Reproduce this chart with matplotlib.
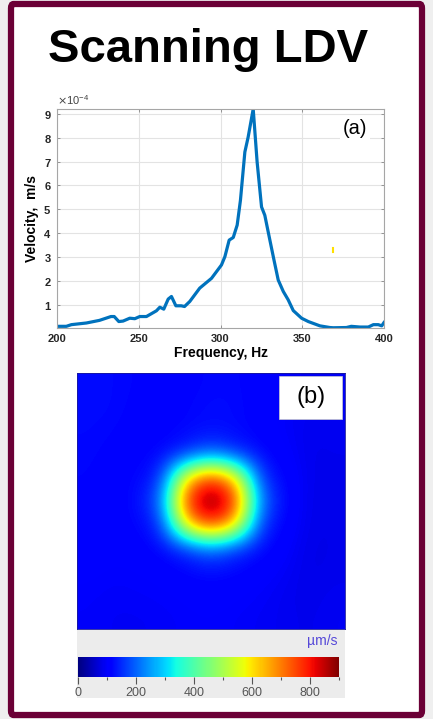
import numpy as np
import matplotlib.pyplot as plt
from matplotlib.patches import FancyBboxPatch, Rectangle
from matplotlib.ticker import ScalarFormatter, MultipleLocator

plt.rcParams['font.family'] = ['Liberation Sans', 'DejaVu Sans']

# spectrum (a), velocity in m/s
freq = [200, 205.7, 208.8, 218, 226, 233, 235, 237.8, 240.4, 244.5, 247.6, 250.6, 254.7,
        260.8, 262.9, 265.3, 268, 270, 272.7, 276, 278, 281.2, 287.3, 294.5, 300.6, 302.7,
        305.3, 307.8, 310.2, 312.2, 314.9, 316.9, 320, 322.4, 325.1, 327.1, 330.2, 332.7,
        335.3, 338.4, 341.4, 344.5, 349.6, 353.7, 360.8, 366.9, 369, 377, 380, 385.3,
        390.4, 393.5, 396.5, 398.6, 400]
vel = [0.10, 0.10, 0.17, 0.24, 0.35, 0.51, 0.51, 0.30, 0.32, 0.44, 0.42, 0.51, 0.51,
       0.75, 0.90, 0.82, 1.24, 1.35, 0.96, 0.96, 0.93, 1.14, 1.70, 2.11, 2.67, 3.02,
       3.71, 3.82, 4.34, 5.38, 7.40, 8.02, 9.20, 6.98, 5.10, 4.75, 3.71, 2.88,
       2.04, 1.56, 1.21, 0.76, 0.44, 0.30, 0.12, 0.05, 0.04, 0.05, 0.10, 0.07,
       0.07, 0.17, 0.17, 0.12, 0.26]
vel = np.array(vel) * 1e-4

# scan map (b), velocity in um/s on the scan grid
scan = np.array([
    [122, 120, 115, 110, 112, 118, 118, 110, 100, 92, 95],
    [122, 120, 112, 108, 115, 122, 120, 110, 98, 90, 92],
    [120, 116, 110, 110, 118, 125, 120, 110, 98, 88, 90],
    [118, 112, 110, 118, 150, 210, 155, 122, 105, 86, 88],
    [116, 110, 114, 150, 620, 790, 630, 155, 116, 86, 86],
    [115, 110, 118, 210, 790, 910, 800, 220, 120, 85, 85],
    [112, 108, 114, 152, 630, 800, 640, 158, 114, 84, 85],
    [110, 105, 108, 120, 155, 220, 160, 124, 104, 82, 85],
    [105, 100, 102, 106, 115, 122, 116, 106, 96, 82, 86],
    [100, 96, 98, 100, 104, 108, 104, 98, 90, 84, 90],
    [98, 94, 94, 96, 100, 102, 98, 94, 90, 86, 92],
])
cbar_ticks = [0, 200, 400, 600, 800]

W, H = 433, 719
def box(l, t, r, b):
    return [l / W, 1 - b / H, (r - l) / W, (b - t) / H]

fig = plt.figure(figsize=(4.33, 7.19), dpi=100, facecolor='#efefef')
frame = FancyBboxPatch((11 / W, 4 / H), 411 / W, 711 / H, boxstyle='round,pad=0,rounding_size=0.006',
                       transform=fig.transFigure, facecolor='white', edgecolor='#6b0036', lw=4.5,
                       zorder=-2)
fig.patches.append(frame)

fig.text(208 / W, 1 - 62 / H, 'Scanning LDV', fontsize=34, fontweight='bold', ha='center', va='baseline')

# (a)
ax = fig.add_axes(box(57, 109, 384, 328))
ax.plot(freq, vel, color='#0072BD', lw=2.3)
ax.plot([368.8, 368.8], [3.2e-4, 3.4e-4], color='#ffe000', lw=1.5)
ax.set_xlim(200, 400)
ax.set_ylim(0.03e-4, 9.2e-4)
ax.set_xticks([200, 250, 300, 350, 400])
ax.set_yticks(np.arange(1, 10) * 1e-4)
fmt = ScalarFormatter(useMathText=True)
fmt.set_powerlimits((-3, 3))
ax.yaxis.set_major_formatter(fmt)
ax.grid(True, color='#e3e3e3', lw=0.8)
ax.tick_params(direction='in', length=2.5, width=0.6, color='#888888', labelsize=8,
               top=True, right=True, pad=4)
for lab in ax.get_xticklabels() + ax.get_yticklabels():
    lab.set_fontweight('bold')
    lab.set_color('#262626')
ax.yaxis.get_offset_text().set_fontsize(8)
ax.yaxis.get_offset_text().set_color('#444444')
for s in ax.spines.values():
    s.set_color('#a6a6a6')
    s.set_linewidth(0.8)
ax.set_xlabel('Frequency, Hz', fontsize=10, fontweight='bold', labelpad=2)
ax.set_ylabel('Velocity,  m/s', fontsize=10, fontweight='bold', labelpad=3)
ax.text(0.95, 0.91, '(a)', transform=ax.transAxes, fontsize=14.5, ha='right', va='center',
        bbox=dict(facecolor='white', edgecolor='none', pad=2))

# grey strip under the map
fig.patches.append(Rectangle((77 / W, 1 - 698 / H), 268 / W, 69 / H, transform=fig.transFigure,
                             facecolor='#ececec', edgecolor='none', zorder=-1))

# (b)
bx = fig.add_axes(box(77, 373, 345, 629))
im = bx.imshow(scan, cmap='jet', vmin=0, vmax=900, interpolation='bicubic', aspect='auto')
bx.set_xticks([])
bx.set_yticks([])
for s in bx.spines.values():
    s.set_color('#1a1a9a')
    s.set_linewidth(0.6)
bx.add_patch(Rectangle((0.755, 0.82), 0.235, 0.17, transform=bx.transAxes,
                       facecolor='white', edgecolor='#cccccc', lw=0.5))
bx.text(0.872, 0.905, '(b)', transform=bx.transAxes, fontsize=17, ha='center', va='center')

fig.text(338 / W, 1 - 641 / H, 'µm/s', fontsize=10, color='#5548d8', ha='right', va='center')

cax = fig.add_axes(box(78, 657, 339, 677))
cb = fig.colorbar(im, cax=cax, orientation='horizontal')
cb.set_ticks(cbar_ticks)
cb.outline.set_visible(False)
cax.xaxis.set_minor_locator(MultipleLocator(100))
cax.tick_params(which='major', length=5, width=0.8, color='#555555', labelsize=9,
                labelcolor='#555555', pad=2)
cax.tick_params(which='minor', length=2.5, width=0.8, color='#555555')

fig.savefig('out.png', dpi=100, facecolor=fig.get_facecolor())
